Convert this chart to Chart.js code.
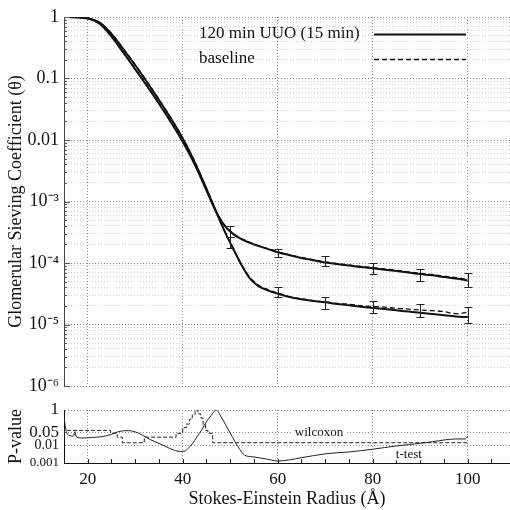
<!DOCTYPE html>
<html>
<head>
<meta charset="utf-8">
<style>
  body { margin: 0; background: #fff; }
  #wrap { position: relative; width: 510px; height: 510px; }
  #wrap canvas { position: absolute; left: 0; top: 0; }
</style>
</head>
<body>
<div id="wrap">
  <canvas id="pChart" width="510" height="510"></canvas>
  <canvas id="sieveChart" width="510" height="510"></canvas>
</div>

<script src="https://cdn.jsdelivr.net/npm/chart.js@4"></script>
<script>
// ---- data ----
const radius = [15, 17.5, 20, 22.5, 25, 27.5, 30, 32.5, 35, 37.5, 40, 42, 44, 45, 46, 47, 48, 49, 50, 51,
  52, 53, 54, 55, 56, 58, 60, 62.5, 65, 67.5, 70, 72.5, 75, 77.5, 80, 82.5, 85, 87.5, 90, 92.5, 95, 97.5, 100];

const uuoUpper = [1.0, 0.989, 0.944, 0.776, 0.479, 0.263, 0.141, 0.075, 0.0389, 0.0195,
  0.00933, 0.00479, 0.00226, 0.00151, 0.00101, 0.000692, 0.000501, 0.000389, 0.000324, 0.000282,
  0.000254, 0.000232, 0.000214, 0.0002, 0.000188, 0.000168, 0.00015, 0.000134, 0.000121, 0.000111,
  0.000102, 0.000096, 0.000091, 0.000086, 0.000082, 0.000078, 0.000074, 0.00007, 0.000066, 0.000063,
  0.000059, 0.000056, 0.000052];
const baseUpper = [1.0, 0.988, 0.942, 0.785, 0.49, 0.27, 0.145, 0.0775, 0.04, 0.02,
  0.0096, 0.0049, 0.0023, 0.00154, 0.00103, 0.000705, 0.00051, 0.000396, 0.00033, 0.000287,
  0.000258, 0.000236, 0.000218, 0.000204, 0.000192, 0.000171, 0.000153, 0.000136, 0.000123, 0.000113,
  0.000104, 0.000098, 0.000093, 0.000088, 0.000084, 0.00008, 0.000076, 0.000072, 0.000068, 0.000065,
  0.000061, 0.000058, 0.000054];
const uuoLower = [1.0, 0.991, 0.955, 0.81, 0.532, 0.299, 0.164, 0.0869, 0.0448, 0.0224,
  0.0106, 0.00532, 0.00243, 0.00161, 0.00105, 0.000686, 0.000453, 0.000306, 0.000212, 0.000148,
  0.000105, 0.000076, 0.0000577, 0.000048, 0.0000418, 0.0000356, 0.0000317, 0.000028, 0.0000257, 0.000024,
  0.000023, 0.0000215, 0.0000205, 0.0000195, 0.0000186, 0.0000178, 0.000017, 0.0000162, 0.0000155, 0.0000148,
  0.0000141, 0.0000135, 0.0000132];
const baseLower = [1.0, 0.991, 0.957, 0.815, 0.54, 0.305, 0.168, 0.089, 0.046, 0.0229,
  0.0108, 0.00542, 0.00247, 0.00164, 0.00107, 0.0007, 0.000462, 0.000313, 0.000217, 0.000152,
  0.000108, 0.000079, 0.00006, 0.00005, 0.0000435, 0.0000368, 0.0000325, 0.0000285, 0.0000262, 0.0000245,
  0.0000232, 0.000022, 0.0000214, 0.0000202, 0.0000196, 0.0000192, 0.0000183, 0.0000178, 0.0000172, 0.0000168,
  0.0000162, 0.000015, 0.0000158];

// error bars (low / high)
const errRadius = [50, 60, 70, 80, 90, 100];
const errUpperLow  = [0.000265, 0.000123, 0.000089, 0.000066, 0.000051, 0.00004];
const errUpperHigh = [0.0004, 0.00017, 0.000129, 0.0001, 0.000079, 0.000069];
const errLowerLow  = [0.000175, 0.000028, 0.0000178, 0.0000151, 0.0000132, 0.0000107];
const errLowerHigh = [0.00026, 0.00004, 0.0000275, 0.000024, 0.0000219, 0.000019];

// p-values
const tRadius = [15, 15.5, 16, 17, 17.3, 17.6, 19, 21, 23, 25, 26.5, 28.5, 30, 31.5, 33, 35, 37.5, 39.5, 40.5, 41.2,
  42, 43, 44, 45, 46, 47, 48, 49, 50, 51, 52, 53, 55, 57.5, 60, 62.5, 65, 67.5, 70, 72.5,
  75, 77.5, 80, 82.5, 85, 87.5, 90, 92.5, 95, 97.5, 99.5, 100];
const tTest = [0.35, 0.06, 0.038, 0.033, 0.06, 0.03, 0.026, 0.028, 0.031, 0.042, 0.06, 0.068, 0.058, 0.038, 0.022, 0.013, 0.0063, 0.0045, 0.0048, 0.007,
  0.012, 0.03, 0.075, 0.22, 0.5, 1.0, 0.45, 0.15, 0.05, 0.016, 0.006, 0.0028, 0.0022, 0.0017, 0.0013, 0.0015, 0.002, 0.0026, 0.0033, 0.0038,
  0.0042, 0.005, 0.006, 0.0075, 0.0092, 0.011, 0.013, 0.016, 0.02, 0.023, 0.023, 0.034];
const wRadius = [15, 24.8, 26.2, 27.3, 31.9, 38.6, 40, 40.8, 41.4, 42, 42.6, 43.2, 43.8, 44.3, 44.8, 45.3, 46.3, 47.4, 100];
const wilcoxon = [0.048, 0.07, 0.048, 0.029, 0.014, 0.029, 0.048, 0.1, 0.16, 0.3, 0.55, 1.0, 0.6, 0.35, 0.15, 0.07, 0.048, 0.014, 0.014];

const legendNames = ['120 min UUO (15 min)', 'baseline'];
const pLabels = ['wilcoxon', 't-test'];
const pLabelRadius = [68.7, 87.6];
const pLabelValue = [0.05, 0.0031];

const radiusTicks = [20, 40, 60, 80, 100];
const sieveTicks = [1e-6, 1e-5, 1e-4, 1e-3, 0.01, 0.1, 1];
const sieveTickLabels = ['10⁻⁶', '10⁻⁵', '10⁻⁴', '10⁻³', '0.01', '0.1', '1'];
const pTicks = [0.001, 0.01, 0.05, 1];
const pTickLabels = ['0.001', '0.01', '0.05', '1'];

const SERIF = '"Liberation Serif", "Times New Roman", serif';
Chart.defaults.font.family = SERIF;
Chart.defaults.color = '#111';

const pts = (xs, ys) => xs.map((r, i) => ({x: r, y: ys[i]}));

// minor gridlines for the log axis: 2..9 in every decade
const sieveAll = [];
sieveTicks.forEach((d, i) => {
  sieveAll.push(d);
  if (i < sieveTicks.length - 1) for (let k = 2; k <= 9; k++) sieveAll.push(+(k * d).toPrecision(3));
});

const errorBars = {
  id: 'errorBars',
  afterDatasetsDraw(chart) {
    const {ctx, scales: {x, y}} = chart;
    ctx.save();
    ctx.strokeStyle = '#222';
    ctx.lineWidth = 1;
    [[errUpperLow, errUpperHigh], [errLowerLow, errLowerHigh]].forEach(([lo, hi]) => {
      errRadius.forEach((r, i) => {
        const px = Math.round(x.getPixelForValue(r)) + 0.5;
        const y1 = Math.round(y.getPixelForValue(lo[i])) + 0.5;
        const y2 = Math.round(y.getPixelForValue(hi[i])) + 0.5;
        ctx.beginPath();
        ctx.moveTo(px, y1); ctx.lineTo(px, y2);
        ctx.moveTo(px - 4, y1); ctx.lineTo(px + 4, y1);
        ctx.moveTo(px - 4, y2); ctx.lineTo(px + 4, y2);
        ctx.stroke();
      });
    });
    ctx.restore();
  }
};

const legendLines = {
  id: 'legendLines',
  afterDraw(chart) {
    const ctx = chart.ctx;
    ctx.save();
    ctx.font = '17px ' + SERIF;
    ctx.fillStyle = '#111';
    ctx.strokeStyle = '#111';
    ctx.textBaseline = 'middle';
    legendNames.forEach((name, i) => {
      const yy = 34 + i * 25;
      ctx.fillText(name, 199, yy);
      ctx.beginPath();
      ctx.setLineDash(i ? [5, 3] : []);
      ctx.lineWidth = i ? 1.3 : 1.8;
      ctx.moveTo(374, yy + 0.5);
      ctx.lineTo(466, yy + 0.5);
      ctx.stroke();
    });
    ctx.restore();
  }
};

const sieveTickMarks = {
  id: 'sieveTickMarks',
  afterDraw(chart) {
    const {ctx, chartArea: a, scales: {y}} = chart;
    ctx.save();
    ctx.strokeStyle = '#555';
    ctx.lineWidth = 1;
    sieveAll.forEach(v => {
      const py = Math.round(y.getPixelForValue(v)) + 0.5;
      const len = sieveTicks.includes(v) ? 6 : 3;
      ctx.beginPath();
      ctx.moveTo(a.left, py); ctx.lineTo(a.left + len, py);
      ctx.stroke();
    });
    ctx.restore();
  }
};

const pDecor = {
  id: 'pDecor',
  afterDraw(chart) {
    const {ctx, chartArea: a, scales: {x, y}} = chart;
    ctx.save();
    ctx.strokeStyle = '#222';
    ctx.lineWidth = 1;
    for (let r = 20; r <= 105; r += 5) {
      const px = Math.round(x.getPixelForValue(r)) + 0.5;
      ctx.beginPath();
      ctx.moveTo(px, a.bottom); ctx.lineTo(px, a.bottom - 4);
      ctx.stroke();
    }
    ctx.font = '13px ' + SERIF;
    ctx.textAlign = 'center';
    ctx.textBaseline = 'middle';
    pLabels.forEach((t, i) => {
      const px = x.getPixelForValue(pLabelRadius[i]);
      const py = y.getPixelForValue(pLabelValue[i]);
      const w = ctx.measureText(t).width;
      ctx.fillStyle = '#fff';
      ctx.fillRect(px - w / 2 - 2, py - 6, w + 4, 12);
      ctx.fillStyle = '#111';
      ctx.fillText(t, px, py);
    });
    ctx.restore();
  }
};

// ---- top panel: sieving coefficient ----
new Chart(document.getElementById('sieveChart'), {
  type: 'line',
  data: {
    datasets: [
      {data: pts(radius, uuoUpper), borderColor: '#111', borderWidth: 2},
      {data: pts(radius, uuoLower), borderColor: '#111', borderWidth: 2},
      {data: pts(radius, baseUpper), borderColor: '#111', borderWidth: 1.3, borderDash: [5, 3]},
      {data: pts(radius, baseLower), borderColor: '#111', borderWidth: 1.3, borderDash: [5, 3]}
    ]
  },
  options: {
    responsive: false,
    animation: false,
    layout: {padding: {top: 17, right: 0, bottom: 0, left: 0}},
    elements: {point: {radius: 0}, line: {cubicInterpolationMode: 'monotone'}},
    plugins: {legend: {display: false}, tooltip: {enabled: false}},
    scales: {
      x: {
        type: 'linear', min: 15, max: 108.9,
        afterBuildTicks: s => { s.ticks = radiusTicks.map(v => ({value: v})); },
        afterFit: s => { s.height = 124; },
        ticks: {display: false},
        grid: {color: '#8c8c8c', drawTicks: false},
        border: {display: false, dash: [1, 2]}
      },
      y: {
        type: 'logarithmic', min: 1e-6, max: 1,
        afterBuildTicks: s => { s.ticks = sieveAll.map(v => ({value: v})); },
        afterFit: s => { s.width = 64; },
        ticks: {
          autoSkip: false, padding: 5,
          font: {size: 18},
          callback: v => { const i = sieveTicks.indexOf(v); return i >= 0 ? sieveTickLabels[i] : ''; }
        },
        grid: {
          drawTicks: false,
          color: c => (c.tick && sieveTicks.includes(c.tick.value)) ? '#8c8c8c' : '#d0d0d0'
        },
        border: {color: '#444', width: 1, dash: [1, 2]},
        title: {display: true, text: 'Glomerular Sieving Coefficient (θ)', font: {size: 18}, padding: {top: 5, bottom: 0}}
      }
    }
  },
  plugins: [errorBars, legendLines, sieveTickMarks]
});

// ---- bottom panel: p-values ----
new Chart(document.getElementById('pChart'), {
  type: 'line',
  data: {
    datasets: [
      {data: pts(tRadius, tTest), borderColor: '#222', borderWidth: 1, cubicInterpolationMode: 'monotone'},
      {data: pts(wRadius, wilcoxon), borderColor: '#222', borderWidth: 1, borderDash: [4, 2], stepped: 'after'}
    ]
  },
  options: {
    responsive: false,
    animation: false,
    layout: {padding: {top: 410, right: 0, bottom: 0, left: 0}},
    elements: {point: {radius: 0}},
    plugins: {legend: {display: false}, tooltip: {enabled: false}},
    scales: {
      x: {
        type: 'linear', min: 15, max: 108.9,
        afterBuildTicks: s => { s.ticks = radiusTicks.map(v => ({value: v})); },
        afterFit: s => { s.height = 47; },
        ticks: {font: {size: 17}, padding: 6},
        grid: {color: '#8c8c8c', drawTicks: false},
        border: {color: '#111', width: 1, dash: [1, 2]},
        title: {display: true, text: 'Stokes-Einstein Radius (Å)', font: {size: 18}, padding: {top: 0, bottom: 0}}
      },
      y: {
        type: 'logarithmic', min: 0.001, max: 1,
        afterBuildTicks: s => { s.ticks = pTicks.map(v => ({value: v})); },
        afterFit: s => { s.width = 64; },
        ticks: {
          autoSkip: false, padding: 5,
          font: c => ({size: c.tick && c.tick.value < 0.005 ? 13 : (c.tick && c.tick.value < 0.02 ? 14 : 17)}),
          callback: v => { const i = pTicks.indexOf(v); return i >= 0 ? pTickLabels[i] : ''; }
        },
        grid: {color: '#8c8c8c', drawTicks: false},
        border: {color: '#111', width: 1, dash: [1, 2]},
        title: {display: true, text: 'P-value', font: {size: 18}, padding: {top: 5, bottom: 0}}
      }
    }
  },
  plugins: [pDecor]
});
</script>
</body>
</html>
